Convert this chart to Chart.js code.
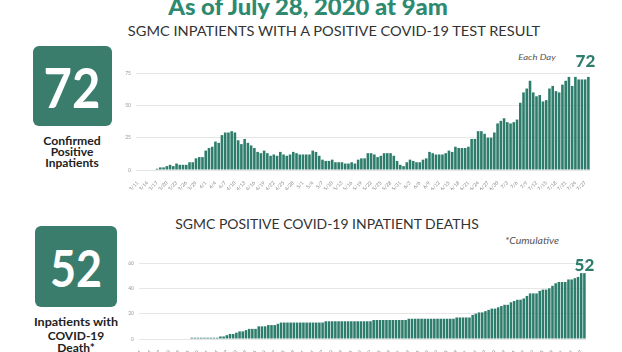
<!DOCTYPE html>
<html>
<head>
<meta charset="utf-8">
<script src="https://cdn.jsdelivr.net/npm/chart.js@4.4.0/dist/chart.umd.min.js"></script>
<style>
    body { margin: 0; width: 622px; height: 352px; overflow: hidden; background: #fff; font-family: Lato, sans-serif; position: relative; }
    .t { position: absolute; white-space: nowrap; line-height: 1; }
    .box { position: absolute; background: #3b7d6d; border-radius: 6px; }
    .big { color: #fff; font-weight: 700; }
    .cap { font-weight: 700; color: #222; }
    .wrap { position: absolute; }
</style>
</head>
<body>
<div class="t" style="left:308px;top:6px;font-size:23px;font-weight:900;color:#2d8a70" data-w="280">As of July 28, 2020 at 9am</div>
<div class="t" style="left:334px;top:31px;font-size:14px;color:#333" data-w="412">SGMC INPATIENTS WITH A POSITIVE COVID-19 TEST RESULT</div>
<div class="t" style="left:537px;top:57px;font-size:8px;font-style:italic;color:#555" data-w="38">Each Day</div>

<div class="box" style="left:33px;top:46px;width:79px;height:80px"></div>
<div class="t big" style="left:72px;top:87px;font-size:55px" data-w="57">72</div>
<div class="t cap" style="left:72px;top:141px;font-size:12px" data-w="57">Confirmed</div>
<div class="t cap" style="left:72px;top:152px;font-size:12px">Positive</div>
<div class="t cap" style="left:72px;top:163px;font-size:12px">Inpatients</div>

<div class="t" style="left:327px;top:224px;font-size:14px;color:#333" data-w="303">SGMC POSITIVE COVID-19 INPATIENT DEATHS</div>
<div class="t" style="left:532px;top:240px;font-size:9px;font-style:italic;color:#555" data-w="54">*Cumulative</div>

<div class="box" style="left:35px;top:226px;width:82px;height:81px"></div>
<div class="t big" style="left:76px;top:267px;font-size:51px" data-w="52">52</div>
<div class="t cap" style="left:76px;top:322px;font-size:12px" data-w="84">Inpatients with</div>
<div class="t cap" style="left:76px;top:336px;font-size:12px">COVID-19</div>
<div class="t cap" style="left:76px;top:348px;font-size:12px">Death*</div>

<div class="wrap" style="left:100px;top:45px"><canvas id="dailyChart" width="510" height="145"></canvas></div>
<div class="wrap" style="left:100px;top:240px"><canvas id="deathChart" width="500" height="112"></canvas></div>

<script>
// dates 3/11 .. 7/28
const startDay = [3, 11];
const dayCount = 140;
const monthLen = { 3: 31, 4: 30, 5: 31, 6: 30, 7: 31 };
const days = [];
let m = startDay[0], d = startDay[1];
for (let i = 0; i < dayCount; i++) {
    days.push(m + '/' + d);
    d++;
    if (d > monthLen[m]) { m++; d = 1; }
}

const inpatients = [
    0, 0, 0, 0, 0, 0, 1, 2, 2, 3, 4, 3, 5, 4, 4, 4,
    6, 6, 9, 10, 10, 15, 17, 18, 22, 21,
    27, 29, 29, 30, 29, 23, 20, 24, 21, 19,
    17, 14, 13, 15, 13, 11, 12, 11, 14, 12,
    11, 12, 14, 13, 12, 12, 12, 12, 15, 14,
    11, 8, 7, 7, 8, 6, 6, 6, 5, 5,
    6, 5, 8, 9, 9, 13, 13, 12, 10, 11,
    13, 13, 13, 11, 7, 4, 3, 6, 8, 7,
    6, 6, 8, 9, 14, 13, 12, 12, 12, 13,
    15, 14, 18, 17, 17, 17, 18, 24, 24, 30,
    30, 28, 25, 25, 29, 36, 38, 40, 37, 36,
    37, 39, 52, 60, 63, 69, 60, 57, 58, 53,
    54, 63, 65, 61, 60, 66, 69, 72, 65, 72,
    70, 70, 70, 72
];

const deaths = [
    0, 0, 0, 0, 0, 0, 0, 0, 0, 0, 0, 0, 0, 0, 0, 0,
    1, 1, 1, 1, 1, 1, 1, 1, 1,
    2, 2, 3, 4, 4, 5, 6, 6, 7, 8, 8, 8, 10, 10, 10, 11, 11, 11, 12,
    13, 13, 13, 13, 13, 13, 13, 13, 13, 13, 13, 13, 13, 13,
    14, 14, 14, 14, 14, 14, 14, 14, 14, 14, 14, 14, 14, 14, 14,
    15, 15, 15, 15, 15, 15, 15, 15, 15, 15, 15,
    16, 16, 16, 16, 16, 16, 16, 16, 16, 16, 16, 16, 16, 16, 16,
    17, 17, 17, 17, 17,
    19, 20, 21, 21, 22, 23, 24, 24, 25, 26, 27, 27, 29, 30, 31, 31, 32, 34,
    36, 36, 36, 38, 39, 39, 40, 42, 44, 45, 45, 45, 47, 47, 48, 49, 52, 52
];

const dailyTicks = [0, 25, 50, 75];
const deathTicks = [0, 20, 40, 60];

const teal = '#2e7d6c';

// put the texts in place, squeezed to the widths of the reference
document.querySelectorAll('.t').forEach(el => {
    let tf = 'translate(-50%,-50%)';
    const w = +el.dataset.w;
    if (w) tf += ' scaleX(' + (w / el.offsetWidth).toFixed(3) + ')';
    el.style.transform = tf;
});

// value over the last bar
const lastLabel = {
    id: 'lastLabel',
    afterDatasetsDraw(chart, args, opts) {
        const meta = chart.getDatasetMeta(0);
        const bar = meta.data[meta.data.length - 1];
        const vals = chart.data.datasets[0].data;
        const ctx = chart.ctx;
        ctx.save();
        ctx.font = '900 17px Lato';
        ctx.fillStyle = teal;
        ctx.textAlign = 'center';
        ctx.textBaseline = 'alphabetic';
        ctx.fillText(String(vals[vals.length - 1]), bar.x + opts.dx, bar.y - opts.gap);
        ctx.restore();
    }
};

function makeChart(id, values, ticks, opt) {
    return new Chart(document.getElementById(id), {
        type: 'bar',
        data: { labels: days, datasets: [{ data: values, backgroundColor: teal, barPercentage: 0.8, categoryPercentage: 1 }] },
        options: {
            responsive: false,
            animation: false,
            layout: { padding: { top: opt.top, right: opt.right, left: 0, bottom: 0 } },
            plugins: { legend: { display: false }, tooltip: { enabled: false }, lastLabel: { dx: opt.dx, gap: opt.gap } },
            scales: {
                x: {
                    grid: { display: false },
                    border: { display: false },
                    afterFit: s => { s.height = opt.xh; },
                    ticks: {
                        autoSkip: false, minRotation: 45, maxRotation: 45, padding: 2,
                        font: { size: 5, family: 'Lato' }, color: '#888',
                        callback: (v, i) => i % 3 === 0 ? days[i] : ''
                    }
                },
                y: {
                    min: 0, max: ticks[ticks.length - 1],
                    afterFit: s => { s.width = opt.yw; },
                    afterBuildTicks: s => { s.ticks = ticks.map(v => ({ value: v })); },
                    grid: { color: '#e6e6e6', lineWidth: 1, drawTicks: false },
                    border: { display: false },
                    ticks: { font: { size: 5, family: 'Lato' }, color: '#999', padding: 5 }
                }
            }
        },
        plugins: [lastLabel]
    });
}

makeChart('dailyChart', inpatients, dailyTicks, { top: 28, right: 20, xh: 20, yw: 36, dx: -3, gap: 10 });
makeChart('deathChart', deaths, deathTicks, { top: 23, right: 14, xh: 13, yw: 39, dx: 0, gap: 2 });
</script>
</body>
</html>
